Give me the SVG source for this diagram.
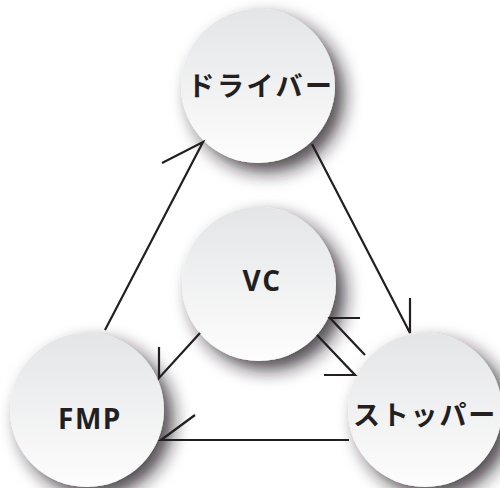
<svg xmlns="http://www.w3.org/2000/svg" width="500" height="488" viewBox="0 0 500 488">
  <defs>
    <linearGradient id="ball" x1="0" y1="0" x2="0" y2="1">
      <stop offset="0" stop-color="#e4e5e7"/>
      <stop offset="1" stop-color="#fdfdfd"/>
    </linearGradient>
    <filter id="shadow" x="-30%" y="-30%" width="170%" height="170%">
      <feDropShadow dx="9" dy="9" stdDeviation="9" flood-color="#231f20" flood-opacity="0.8"/>
    </filter>
  </defs>
  <style>
    .ball { fill: url(#ball); filter: url(#shadow); }
    .jp { font-family: "Noto Sans CJK JP", "Noto Sans", sans-serif; font-weight: 700; font-size: 27px; letter-spacing: 2.5px; fill: #231f20; text-anchor: middle; }
    .jp.tight { letter-spacing: 1.8px; }
    .en { font-family: "Open Sans", "Noto Sans", sans-serif; font-weight: 700; font-size: 28px; letter-spacing: 1.5px; fill: #231f20; text-anchor: middle; }
    .wire { fill: none; stroke: #231f20; stroke-width: 2.2; stroke-linecap: butt; stroke-linejoin: miter; }
  </style>

  <rect width="500" height="488" fill="#ffffff"/>

  <g id="driver">
    <circle class="ball" cx="258" cy="86" r="77"/>
    <text class="jp" x="261" y="96">ドライバー</text>
  </g>
  <g id="vc">
    <circle class="ball" cx="259" cy="284" r="77"/>
    <text class="en" x="262" y="291">VC</text>
  </g>
  <g id="fmp">
    <circle class="ball" cx="87" cy="410" r="77"/>
    <text class="en" x="90" y="429">FMP</text>
  </g>
  <g id="stopper">
    <circle class="ball" cx="425" cy="410" r="77"/>
    <text class="jp tight" x="425" y="425">ストッパー</text>
  </g>

  <g id="connectors">
    <!-- driver to stopper -->
    <path class="wire" d="M312,144 L410,333 L410,298"/>
    <!-- fmp to driver -->
    <path class="wire" d="M105,330 L203,142 L162,163"/>
    <!-- vc to fmp -->
    <path class="wire" d="M200,333 L159,378 L159,347"/>
    <!-- stopper to fmp -->
    <path class="wire" d="M349,440 L161,440 L195,415"/>
    <!-- stopper to vc -->
    <path class="wire" d="M365,355 L330,318 L360,318"/>
    <!-- vc to stopper -->
    <path class="wire" d="M317,335 L355,375 L324,375"/>
  </g>
</svg>
